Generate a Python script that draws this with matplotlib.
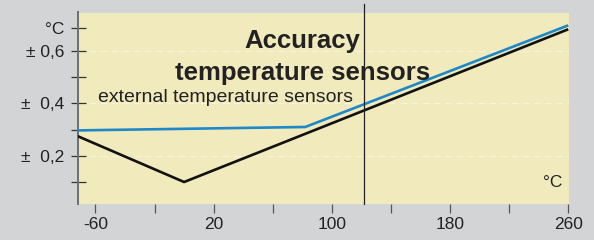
import matplotlib
matplotlib.use("Agg")
import matplotlib.pyplot as plt

plt.rcParams['font.family'] = ['Liberation Sans', 'DejaVu Sans']

# accuracy curves (deg C -> +/- deg C)
temp_int = [-72, 0, 260]
acc_int = [0.275, 0.10, 0.683]
temp_ext = [-72, 82, 260]
acc_ext = [0.297, 0.31, 0.698]

xticks = [-60, -20, 20, 60, 100, 140, 180, 220, 260]
xlabels = ['-60', '', '20', '', '100', '', '180', '', '260']
yticks = [0.1, 0.2, 0.3, 0.4, 0.5, 0.6, 0.687]
ylabels = ['', '±  0,2', '', '±  0,4', '', '± 0,6', '°C']
marker_temp = 122

fig = plt.figure(figsize=(5.94, 2.4), dpi=100)
fig.patch.set_facecolor('#d3d4d6')
ax = fig.add_axes([78/594, 1 - 203.5/240, 491/594, 191/240])
ax.set_facecolor('#f1eabd')

ax.set_xlim(-71.8, 260.5)
ax.set_ylim(0.018, 0.747)

for g in [0.2, 0.4, 0.6]:
    ax.axhline(g, color='#f8f3dc', lw=0.8, ls=(0, (6, 4)), zorder=1)

ax.plot(temp_ext, acc_ext, color='#1e88c8', lw=1.9, zorder=3, solid_capstyle='butt')
ax.plot(temp_int, acc_int, color='#111111', lw=1.9, zorder=3, solid_capstyle='butt')

ax.plot([marker_temp, marker_temp], [0, 1.045], transform=ax.get_xaxis_transform(),
        color='#222222', lw=0.9, clip_on=False, zorder=4)

ax.text(80, 0.610, 'Accuracy', ha='center', va='baseline', fontsize=18.5,
        fontweight='bold', color='#222222')
ax.text(80, 0.488, 'temperature sensors', ha='center', va='baseline', fontsize=18.5,
        fontweight='bold', color='#222222')
ax.text(-58.4, 0.405, 'external temperature sensors', ha='left', va='baseline',
        fontsize=14, color='#222222')
ax.text(256, 0.081, '°C', ha='right', va='baseline', fontsize=12.5, color='#222222')

ax.set_xticks(xticks)
ax.set_xticklabels(xlabels)
ax.set_yticks(yticks)
ax.set_yticklabels(ylabels)
ax.tick_params(axis='x', direction='out', length=6.5, width=0.9, color='#555555',
               labelsize=12.5, labelcolor='#222222', pad=3)
ax.tick_params(axis='y', direction='inout', length=10.8, width=0.9, color='#333333',
               labelsize=12.5, labelcolor='#222222', pad=4.5)

for side in ['top', 'right', 'bottom']:
    ax.spines[side].set_visible(False)
ax.spines['left'].set_color('#6e6e6e')
ax.spines['left'].set_linewidth(1.4)

fig.savefig('out.png', dpi=100, facecolor=fig.get_facecolor())
